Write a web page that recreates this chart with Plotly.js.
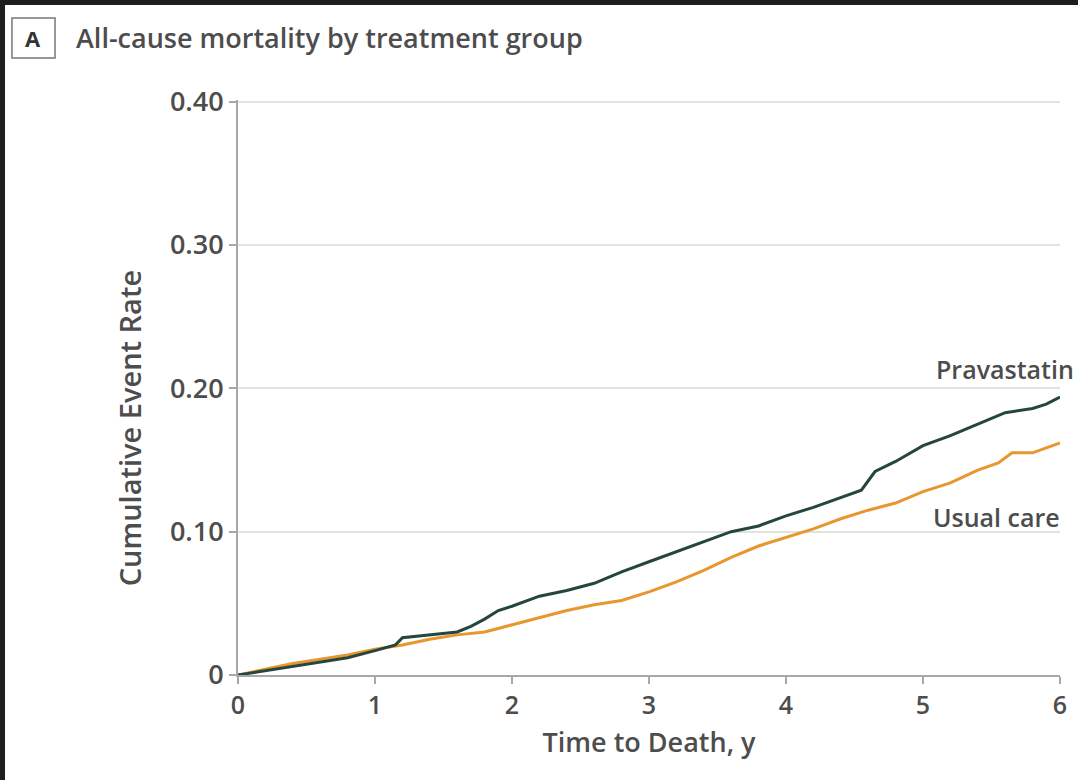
<!DOCTYPE html>
<html>
<head>
<meta charset="utf-8">
<script src="https://cdn.plot.ly/plotly-3.0.1.min.js"></script>
<style>
html,body{margin:0;padding:0;background:#1e1e1e;width:1078px;height:780px;overflow:hidden;}
#chart{position:absolute;left:5px;top:5px;width:1073px;height:775px;background:#fff;}
</style>
</head>
<body>
<div id="chart"></div>
<script>
// Time (years) and cumulative event rate
const pravaTime = [0, 0.2, 0.4, 0.6, 0.8, 1.0, 1.15, 1.2, 1.4, 1.6, 1.7, 1.8, 1.9, 2.0, 2.2, 2.4, 2.6, 2.8, 3.0, 3.2, 3.4, 3.6, 3.8, 4.0, 4.2, 4.4, 4.55, 4.65, 4.8, 5.0, 5.2, 5.4, 5.6, 5.8, 5.9, 6.0];
const pravaRate = [0, 0.003, 0.006, 0.009, 0.012, 0.017, 0.021, 0.026, 0.028, 0.030, 0.034, 0.039, 0.045, 0.048, 0.055, 0.059, 0.064, 0.072, 0.079, 0.086, 0.093, 0.100, 0.104, 0.111, 0.117, 0.124, 0.129, 0.142, 0.149, 0.160, 0.167, 0.175, 0.183, 0.186, 0.189, 0.194];
const usualTime = [0, 0.2, 0.4, 0.6, 0.8, 1.0, 1.2, 1.4, 1.6, 1.8, 2.0, 2.2, 2.4, 2.6, 2.8, 3.0, 3.2, 3.4, 3.6, 3.8, 4.0, 4.2, 4.4, 4.6, 4.8, 5.0, 5.2, 5.4, 5.55, 5.65, 5.8, 6.0];
const usualRate = [0, 0.004, 0.008, 0.011, 0.014, 0.018, 0.021, 0.025, 0.028, 0.030, 0.035, 0.040, 0.045, 0.049, 0.052, 0.058, 0.065, 0.073, 0.082, 0.090, 0.096, 0.102, 0.109, 0.115, 0.120, 0.128, 0.134, 0.143, 0.148, 0.155, 0.155, 0.162];
const yTicks = [0, 0.10, 0.20, 0.30, 0.40];
const yTickText = ["0", "0.10", "0.20", "0.30", "0.40"];
const xTicks = [0, 1, 2, 3, 4, 5, 6];

const FONT = '"Open Sans", "Noto Sans", sans-serif';
const TXT = '#4d4d4d';

const traces = [
  {x: usualTime, y: usualRate, mode: 'lines', line: {color: '#e8962e', width: 3}, name: 'Usual care', hoverinfo: 'none'},
  {x: pravaTime, y: pravaRate, mode: 'lines', line: {color: '#25463f', width: 3}, name: 'Pravastatin', hoverinfo: 'none'}
];

const layout = {
  width: 1073, height: 775,
  margin: {l: 233, r: 18, t: 95, b: 105},
  paper_bgcolor: '#ffffff', plot_bgcolor: '#ffffff',
  showlegend: false,
  font: {family: FONT, color: TXT, size: 22, weight: 600},
  xaxis: {
    range: [0, 6], tickvals: xTicks, ticktext: xTicks.map(String),
    showgrid: false, zeroline: false, showline: true, linecolor: '#a8a8a8', linewidth: 2,
    ticks: 'outside', ticklen: 7, tickcolor: '#a8a8a8', tickwidth: 2,
    tickfont: {family: FONT, size: 25, color: TXT, weight: 600},
    title: {text: 'Time to Death, y', font: {family: FONT, size: 27, color: TXT, weight: 600}, standoff: 13}
  },
  yaxis: {
    range: [0, 0.4012], tickvals: yTicks, ticktext: yTickText,
    showgrid: true, gridcolor: '#e2e2e2', gridwidth: 2, zeroline: false,
    showline: true, linecolor: '#a8a8a8', linewidth: 2,
    ticks: 'outside', ticklen: 7, tickcolor: '#a8a8a8', tickwidth: 2,
    tickfont: {family: FONT, size: 27, color: TXT, weight: 600}
  },
  shapes: [
    {type: 'rect', xref: 'paper', yref: 'paper', x0: -0.275, x1: -0.2226, y0: 1.073, y1: 1.1426, line: {color: '#777', width: 1.5}, fillcolor: 'rgba(0,0,0,0)'}
  ],
  annotations: [
    {xref: 'paper', yref: 'paper', x: -0.2488, y: 1.108, text: '<b>A</b>', showarrow: false, font: {family: FONT, size: 22, color: '#333'}, xanchor: 'center', yanchor: 'middle'},
    {xref: 'paper', yref: 'paper', x: -0.199, y: 1.108, text: 'All-cause mortality by treatment group', showarrow: false, font: {family: FONT, size: 27, color: TXT, weight: 600}, xanchor: 'left', yanchor: 'middle'},
    {xref: 'paper', yref: 'paper', x: -0.131, y: 0.4296, text: 'Cumulative Event Rate', textangle: -90, showarrow: false, font: {family: FONT, size: 29, color: TXT, weight: 600}, xanchor: 'center', yanchor: 'middle'},
    {xref: 'paper', yref: 'y', x: 1.02, y: 0.2135, text: 'Pravastatin', showarrow: false, font: {family: FONT, size: 25, color: TXT, weight: 600}, xanchor: 'right', yanchor: 'middle'},
    {xref: 'paper', yref: 'y', x: 1.003, y: 0.1105, text: 'Usual care', showarrow: false, font: {family: FONT, size: 25, color: TXT, weight: 600}, xanchor: 'right', yanchor: 'middle'}
  ]
};

Plotly.newPlot('chart', traces, layout, {displayModeBar: false, staticPlot: true});
</script>
</body>
</html>
